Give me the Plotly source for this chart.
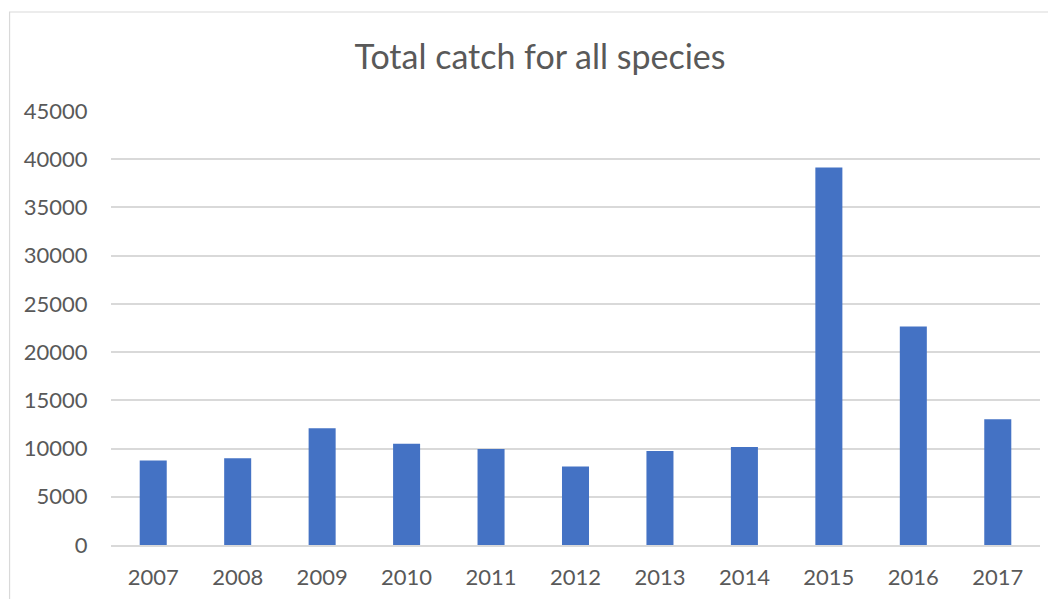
import plotly.graph_objects as go

years = ["2007", "2008", "2009", "2010", "2011", "2012", "2013", "2014", "2015", "2016", "2017"]
catch = [8750, 9000, 12100, 10500, 9950, 8150, 9750, 10150, 39150, 22650, 13050]
y_ticks = [0, 5000, 10000, 15000, 20000, 25000, 30000, 35000, 40000, 45000]

# page is offset by the default 8px body margin
OFF = 8
W, H = 1056, 599
L, R, T, B = 110.5 - OFF, 24, 111 - OFF, 62
pw, ph = W - L - R, H - T - B

fig = go.Figure(go.Bar(x=years, y=catch, marker=dict(color="#4472C4", line=dict(width=0))))

fig.update_layout(
    width=W, height=H,
    margin=dict(l=L, r=R, t=T, b=B, autoexpand=False),
    paper_bgcolor="white", plot_bgcolor="white",
    bargap=0.68,
    showlegend=False,
    font=dict(family="Lato", color="#595959", size=22),
    title=dict(text="Total catch for all species", x=(540 - OFF) / W, xanchor="center",
               y=1 - (57 - OFF) / H, yanchor="middle", font=dict(size=34, color="#595959")),
    xaxis=dict(type="category", showgrid=False, showline=True, linecolor="#D9D9D9", linewidth=1.5,
               ticks="outside", ticklen=12, tickcolor="rgba(0,0,0,0)", tickfont=dict(size=22)),
    yaxis=dict(range=[0, 45000], tickvals=y_ticks, tickformat="d", showgrid=True,
               gridcolor="#D9D9D9", gridwidth=1.5,
               zeroline=False, showline=False, ticks="outside", ticklen=18,
               tickcolor="rgba(0,0,0,0)", tickfont=dict(size=22)),
    shapes=[dict(type="rect", xref="paper", yref="paper",
                 x0=(1 - L) / pw, x1=(W + 20 - L) / pw,
                 y0=-(B + 20) / ph, y1=(H - B - (12 - OFF)) / ph,
                 line=dict(color="#D9D9D9", width=1.2), layer="below")],
)

fig.write_html("out.html")
